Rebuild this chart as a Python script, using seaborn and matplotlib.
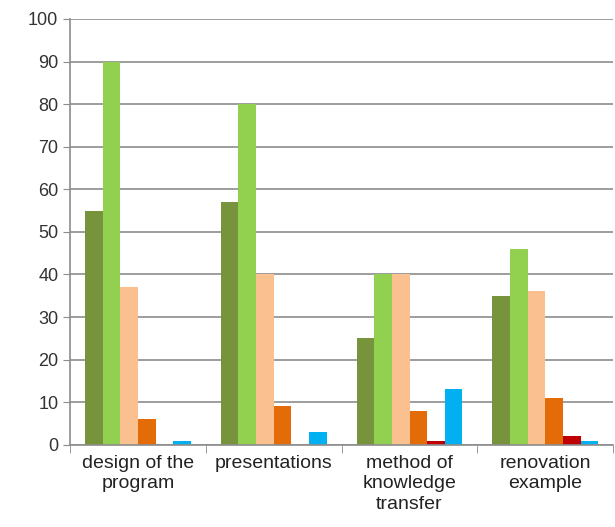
import numpy as np
import pandas as pd
import seaborn as sns
import matplotlib.pyplot as plt

categories = ['design of the\nprogram', 'presentations', 'method of\nknowledge\ntransfer', 'renovation\nexample']
series = ['s1', 's2', 's3', 's4', 's5', 's6']
s1 = [55, 57, 25, 35]
s2 = [90, 80, 40, 46]
s3 = [37, 40, 40, 36]
s4 = [6, 9, 8, 11]
s5 = [0, 0, 1, 2]
s6 = [1, 3, 13, 1]
colors = ['#77933C', '#92D050', '#FAC090', '#E36C09', '#C00000', '#00B0F0']

rows = []
for name, vals in zip(series, [s1, s2, s3, s4, s5, s6]):
    for cat, v in zip(categories, vals):
        rows.append({'cat': cat, 'series': name, 'value': v})
df = pd.DataFrame(rows)

sns.set_style('white')
plt.rcParams['font.family'] = ['Liberation Sans', 'DejaVu Sans']

fig = plt.figure(figsize=(6.15, 5.27), dpi=100)
ax = fig.add_axes([0.114, 0.156, 0.883, 0.808])
sns.barplot(data=df, x='cat', y='value', hue='series', hue_order=series,
            palette=colors, width=0.78, gap=0, legend=False, ax=ax,
            saturation=1, linewidth=0)

ax.set_ylim(0, 100)
ax.set_xlim(-0.5, 3.5)
ax.set_yticks(range(0, 101, 10))
ax.yaxis.grid(True, color='#8c8c8c', linewidth=1.2)
ax.set_axisbelow(True)
for s in ['top', 'right']:
    ax.spines[s].set_visible(False)
for s in ['left', 'bottom']:
    ax.spines[s].set_color('#8c8c8c')
    ax.spines[s].set_linewidth(1.2)
ax.set_xlabel('')
ax.set_ylabel('')
ax.set_xticks(range(len(categories)))
ax.set_xticklabels(categories, linespacing=1.3)
ax.tick_params(axis='y', labelsize=13, length=5, color='#8c8c8c', left=True, labelcolor='#333333')
ax.tick_params(axis='x', which='major', length=0, labelsize=14, pad=7, labelcolor='#222222')
ax.set_xticks(np.arange(-0.5, 3.6, 1), minor=True)
ax.tick_params(axis='x', which='minor', length=6, color='#8c8c8c', bottom=True)

fig.savefig('out.png', dpi=100)
